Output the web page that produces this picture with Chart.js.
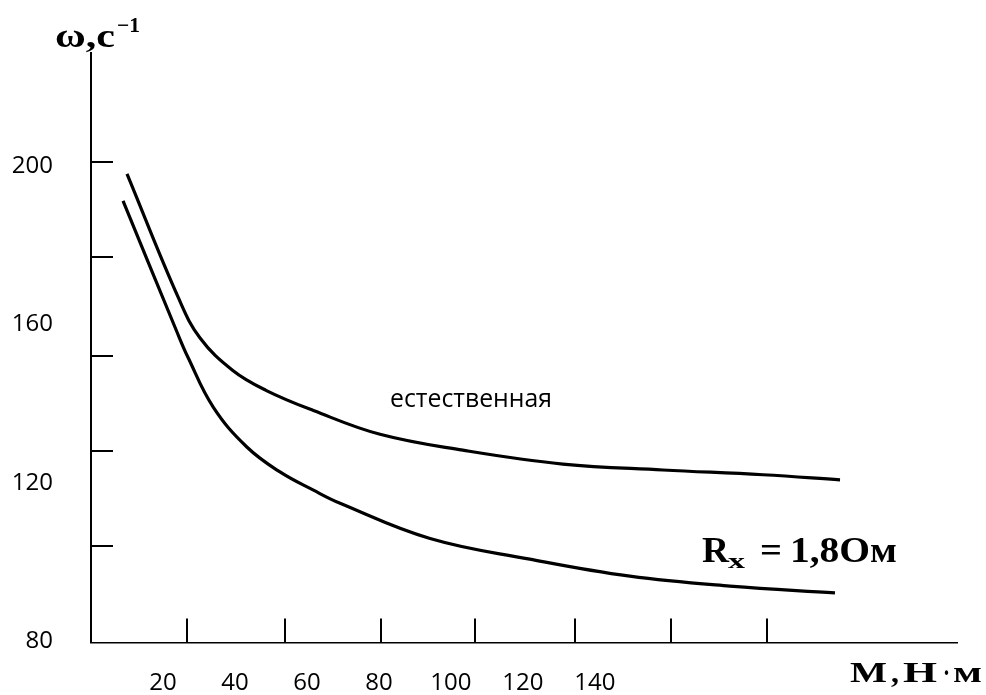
<!DOCTYPE html>
<html lang="ru">
<head>
<meta charset="UTF-8">
<title>Механические характеристики</title>
<script src="https://cdn.jsdelivr.net/npm/chart.js"></script>
<style>
  html, body { margin: 0; padding: 0; background: #fff; }
  .grafico { position: relative; width: 986px; height: 695px; }
</style>
</head>
<body>
<div class="grafico"><canvas id="myChart"></canvas></div>
<script>
// естественная характеристика: M (Н·м) и ω (c^-1)
const natM = [10, 24.3, 30.3, 39.4, 48.6, 61.8, 80.3, 103.3, 131.1, 158.9, 186.7, 208.1];
const natW = [197, 165.7, 155.6, 147.4, 142.4, 137.3, 131.3, 127.3, 123.8, 122.3, 121.1, 119.8];

// реостатная характеристика, Rx = 1,8 Ом
const rxM = [8.9, 23.8, 27.0, 34.0, 43.3, 52.5, 61.8, 69.2, 94.2, 121.9, 149.7, 177.5, 206.7];
const rxW = [190.2, 157.3, 150.6, 138.1, 128.1, 121.8, 117.2, 113.9, 105.0, 99.8, 95.5, 93.0, 91.3];

// подписи осей и риски
const xLabels = [20, 40, 60, 80, 100, 120, 140];
const yLabels = [80, 120, 160, 200];
const xMarks = [26.7, 53.9, 80.6, 106.7, 134.4, 161.1, 187.8];
const yMarks = [103, 127, 151, 176, 200];

const pontos = (xs, ys) => xs.map((v, i) => ({ x: v, y: ys[i] }));

// texto esticado na horizontal, como no desenho original
function texto(ctx, str, x, y, font, largura) {
    ctx.save();
    ctx.font = font;
    const w = ctx.measureText(str).width;
    ctx.translate(x, y);
    ctx.scale(largura / w, 1);
    ctx.fillText(str, 0, 0);
    ctx.restore();
}

const marcas = {
    id: 'marcas',
    afterDraw(chart) {
        const ctx = chart.ctx;
        const sx = chart.scales.x, sy = chart.scales.y, a = chart.chartArea;
        ctx.save();
        ctx.strokeStyle = '#000';
        ctx.lineWidth = 2;
        ctx.beginPath();
        yMarks.forEach(v => {
            const py = Math.round(sy.getPixelForValue(v));
            ctx.moveTo(a.left, py);
            ctx.lineTo(a.left + 22, py);
        });
        xMarks.forEach(v => {
            const px = Math.round(sx.getPixelForValue(v));
            ctx.moveTo(px, a.bottom);
            ctx.lineTo(px, a.bottom - 24);
        });
        ctx.stroke();

        ctx.fillStyle = '#000';
        ctx.textBaseline = 'alphabetic';
        ctx.textAlign = 'left';
        // заголовок оси ω
        texto(ctx, 'ω,c', 55, 47, 'bold 34px "Liberation Serif"', 60);
        texto(ctx, '−1', 117, 32, 'bold 21px "Liberation Serif"', 23);
        // заголовок оси M
        texto(ctx, 'M', 850, 682, 'bold 30px "Liberation Serif"', 37);
        texto(ctx, ',', 891, 682, 'bold 30px "Liberation Serif"', 8);
        texto(ctx, 'H', 903, 682, 'bold 30px "Liberation Serif"', 34);
        texto(ctx, '·', 943, 682, 'bold 30px "Liberation Serif"', 7);
        texto(ctx, 'м', 953, 682, 'bold 30px "Liberation Serif"', 29);
        // подписи кривых
        texto(ctx, 'естественная', 390, 407, '26px "Open Sans"', 162);
        texto(ctx, 'R', 702, 562, 'bold 36px "Liberation Serif"', 27);
        texto(ctx, 'x', 728, 568, 'bold 22px "Liberation Serif"', 17);
        texto(ctx, '=', 760, 562, 'bold 36px "Liberation Serif"', 22);
        texto(ctx, '1,8Ом', 790, 562, 'bold 36px "Liberation Serif"', 107);
        ctx.restore();
    }
};

const ctx = document.getElementById('myChart').getContext('2d');

const myChart = new Chart(ctx, {
    type: 'line',
    data: {
        datasets: [{
            label: 'естественная',
            data: pontos(natM, natW),
            borderColor: '#000',
            borderWidth: 3.2,
            pointRadius: 0,
            tension: 0.4,
            fill: false
        }, {
            label: 'Rx = 1,8 Ом',
            data: pontos(rxM, rxW),
            borderColor: '#000',
            borderWidth: 3.2,
            pointRadius: 0,
            tension: 0.4,
            fill: false
        }]
    },
    options: {
        responsive: true,
        maintainAspectRatio: false,
        animation: false,
        layout: {
            padding: { top: 53, right: 29, left: 0, bottom: 0 }
        },
        plugins: {
            legend: { display: false },
            tooltip: { enabled: false }
        },
        scales: {
            x: {
                type: 'linear',
                min: 0,
                max: 240.6,
                grid: { display: false, drawTicks: false },
                border: { display: true, color: '#000', width: 1.5 },
                afterBuildTicks: s => { s.ticks = xLabels.map(v => ({ value: v })); },
                afterFit: s => { s.height = 48; },
                ticks: {
                    color: '#000',
                    padding: 26,
                    maxRotation: 0,
                    font: { family: 'Open Sans', size: 24 }
                }
            },
            y: {
                type: 'linear',
                min: 78.75,
                max: 227.5,
                grid: { display: false, drawTicks: false },
                border: { display: true, color: '#000', width: 2 },
                afterBuildTicks: s => { s.ticks = yLabels.map(v => ({ value: v })); },
                afterFit: s => { s.width = 91; },
                ticks: {
                    color: '#000',
                    padding: 38,
                    labelOffset: 4,
                    font: { family: 'Open Sans', size: 24 }
                }
            }
        }
    },
    plugins: [marcas]
});
</script>
</body>
</html>
